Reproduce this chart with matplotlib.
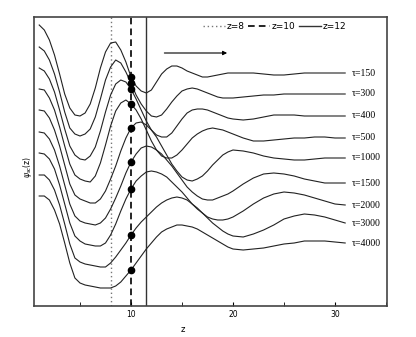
import matplotlib
matplotlib.use("Agg")
import matplotlib.pyplot as plt
import numpy as np

# sample positions along z (shared by every curve)
z = [1, 1.5, 2, 2.5, 3, 3.5, 4, 4.5, 5, 5.5, 6, 6.5, 7, 7.5, 8, 8.5, 9, 9.5,
     10, 10.5, 11, 11.5, 12, 12.5, 13, 13.5, 14, 14.5, 15, 15.5, 16, 16.5,
     17, 17.5, 18, 18.5, 19, 19.5, 20, 21, 22, 23, 24, 25, 26, 27, 28, 29,
     30, 31]

# psi_sc(z) at each time, shifted vertically so the curves stack
psi_150 = [281, 276, 266, 251, 232, 212, 198, 191, 190, 193, 202, 218, 238,
           254, 263, 264, 256, 244, 229, 220, 215, 213, 216, 224, 232, 237,
           240, 240, 238, 235, 233, 231, 229, 229, 230, 231, 232, 233, 233,
           233, 233, 232, 231, 231, 232, 233, 233, 233, 233, 233]
psi_300 = [259, 255, 246, 232, 214, 194, 178, 172, 170, 172, 177, 189, 207,
           226, 239, 246, 243, 234, 223, 211, 202, 195, 190, 189, 191, 197,
           204, 210, 215, 217, 218, 217, 215, 213, 211, 209, 208, 208, 208,
           209, 210, 211, 211, 212, 212, 212, 212, 212, 212, 212]
psi_400 = [238, 235, 227, 214, 196, 177, 160, 151, 147, 146, 150, 159, 175,
           194, 211, 222, 226, 224, 217, 207, 196, 185, 176, 171, 169, 169,
           173, 180, 187, 193, 196, 197, 197, 196, 194, 192, 190, 188, 187,
           186, 187, 189, 191, 191, 191, 190, 190, 190, 190, 190]
psi_500 = [217, 216, 208, 196, 179, 160, 142, 131, 127, 125, 124, 130, 143,
           161, 180, 195, 203, 206, 202, 196, 187, 176, 165, 156, 150, 148,
           148, 151, 156, 162, 168, 172, 175, 177, 178, 177, 176, 174, 172,
           168, 165, 165, 166, 167, 168, 168, 169, 169, 168, 168]
psi_1000 = [196, 195, 188, 176, 160, 141, 122, 111, 107, 105, 103, 103, 107,
            115, 127, 140, 155, 168, 178, 183, 184, 181, 176, 169, 160, 151,
            142, 135, 129, 126, 125, 127, 130, 135, 141, 146, 151, 154, 156,
            155, 153, 150, 148, 147, 146, 146, 147, 148, 148, 148]
psi_1500 = [174, 173, 167, 156, 140, 121, 102, 90, 85, 83, 82, 81, 83, 88, 97,
            108, 120, 133, 144, 152, 158, 160, 159, 156, 152, 146, 140, 133,
            126, 119, 114, 110, 107, 106, 106, 108, 110, 112, 115, 122, 128,
            132, 133, 132, 130, 127, 125, 123, 123, 123]
psi_2000 = [153, 152, 147, 137, 121, 102, 83, 70, 65, 62, 61, 60, 60, 63, 71,
            82, 95, 107, 117, 125, 130, 134, 135, 134, 132, 129, 124, 119, 114,
            108, 102, 97, 93, 89, 87, 86, 86, 87, 89, 95, 102, 108, 112, 114,
            113, 111, 108, 105, 102, 101]
psi_3000 = [131, 131, 126, 116, 101, 82, 62, 48, 44, 42, 41, 40, 39, 39, 43,
            49, 56, 63, 71, 78, 84, 89, 94, 99, 103, 106, 108, 109, 108, 106,
            102, 98, 93, 88, 83, 79, 75, 72, 70, 69, 72, 76, 81, 87, 90, 92,
            91, 89, 86, 83]
psi_4000 = [110, 110, 106, 96, 82, 63, 43, 28, 23, 21, 20, 19, 18, 18, 18, 20,
            24, 30, 36, 43, 50, 57, 63, 69, 74, 77, 79, 81, 81, 80, 79, 77, 74,
            71, 68, 65, 62, 59, 57, 56, 57, 58, 60, 62, 63, 65, 65, 65, 64, 63]

taus = [150, 300, 400, 500, 1000, 1500, 2000, 3000, 4000]
curves = [psi_150, psi_300, psi_400, psi_500, psi_1000, psi_1500, psi_2000,
          psi_3000, psi_4000]

z_lines = [8, 10, 11.45]
line_labels = ["z=8", "z=10", "z=12"]

fig = plt.figure(figsize=(4.16, 3.37), dpi=100)
ax = fig.add_axes([34 / 416, 31 / 337, 353 / 416, 289 / 337])

ax.axvline(z_lines[0], color="#777777", ls=(0, (1, 2)), lw=1)
ax.axvline(z_lines[1], color="k", ls=(0, (4, 2.5)), lw=1.2)
ax.axvline(z_lines[2], color="#333333", lw=1)

for tau, psi in zip(taus, curves):
    ax.plot(z, psi, color="#222222", lw=0.8)
    # value where the curve crosses z=10
    ax.plot(10, np.interp(10, z, psi), "o", color="k", ms=4.5, zorder=5)
    ax.text(z[-1] + 0.6, psi[-1], "τ=%d" % tau, va="center", ha="left",
            fontsize=7, family=["Liberation Serif", "DejaVu Serif"])

h1, = ax.plot([], [], color="#777777", ls=(0, (1, 2)), lw=1)
h2, = ax.plot([], [], color="k", ls=(0, (4, 2.5)), lw=1.2)
h3, = ax.plot([], [], color="#333333", lw=1)
ax.legend([h1, h2, h3], line_labels, ncol=3, loc="upper right",
          bbox_to_anchor=(0.9, 1.0), frameon=False, fontsize=6.5,
          handlelength=2.4, handletextpad=0.2, columnspacing=0.4,
          borderaxespad=0.2)

ax.annotate("", xy=(19.7, 253), xytext=(13.0, 253),
            arrowprops=dict(arrowstyle="-|>", color="k", lw=0.8,
                            mutation_scale=6))

ax.set_xlim(0.49, 35.1)
ax.set_ylim(0, 289)
ax.set_xticks([10, 20, 30])
ax.set_xticks([5, 15, 25, 35], minor=True)
ax.set_yticks([])
ax.tick_params(axis="x", which="both", direction="in", labelsize=5.5,
               length=3, pad=3)
for s in ax.spines.values():
    s.set_linewidth(1.2)
    s.set_color("#444444")

ax.set_xlabel("z", fontsize=6)
ax.xaxis.set_label_coords(0.422, -0.066)
ax.set_ylabel(r"$\psi_{sc}$(z)", fontsize=5.5)
ax.yaxis.set_label_coords(0.0, 0.48)

fig.savefig("out.png", dpi=100)
